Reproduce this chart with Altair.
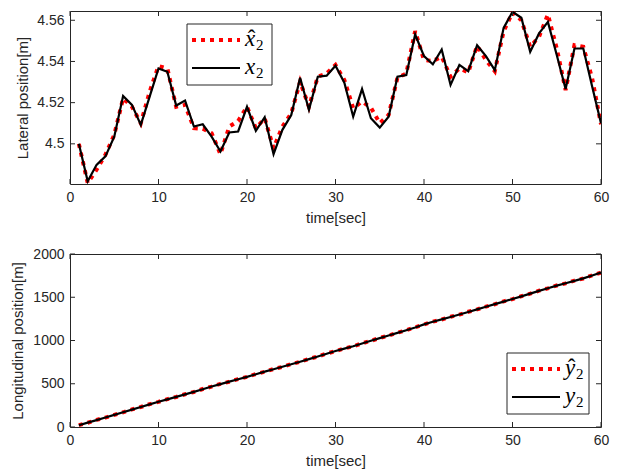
import altair as alt
import pandas as pd

# ---------------- data ----------------
time_s = list(range(1, 61))

x2_hat = [4.5000, 4.4810, 4.4874, 4.4947, 4.5044, 4.5221, 4.5180, 4.5100, 4.5253, 4.5378,
          4.5366, 4.5180, 4.5189, 4.5076, 4.5073, 4.5052, 4.4950, 4.5084, 4.5111, 4.5180,
          4.5076, 4.5124, 4.4979, 4.5084, 4.5148, 4.5302, 4.5180, 4.5326, 4.5342, 4.5383,
          4.5310, 4.5173, 4.5205, 4.5176, 4.5100, 4.5140, 4.5321, 4.5342, 4.5547, 4.5407,
          4.5402, 4.5423, 4.5326, 4.5366, 4.5347, 4.5476, 4.5407, 4.5353, 4.5547, 4.5638,
          4.5600, 4.5471, 4.5520, 4.5628, 4.5463, 4.5261, 4.5479, 4.5471, 4.5318, 4.5095]

x2 = [4.5000, 4.4818, 4.4898, 4.4939, 4.5035, 4.5232, 4.5189, 4.5092, 4.5229, 4.5366,
      4.5350, 4.5186, 4.5210, 4.5084, 4.5095, 4.5035, 4.4963, 4.5055, 4.5060, 4.5180,
      4.5063, 4.5129, 4.4950, 4.5068, 4.5140, 4.5321, 4.5165, 4.5326, 4.5331, 4.5379,
      4.5297, 4.5132, 4.5266, 4.5124, 4.5079, 4.5132, 4.5326, 4.5334, 4.5531, 4.5426,
      4.5386, 4.5458, 4.5286, 4.5383, 4.5353, 4.5479, 4.5426, 4.5358, 4.5563, 4.5641,
      4.5612, 4.5447, 4.5536, 4.5592, 4.5431, 4.5266, 4.5463, 4.5463, 4.5278, 4.5100]

y2_hat = [22, 49, 82, 109, 141, 170, 203, 231, 264, 291, 322, 347, 379, 405, 439, 467, 498, 523,
          554, 579, 612, 639, 670, 695, 727, 754, 787, 814, 849, 877, 908, 933, 967, 996, 1030,
          1057, 1090, 1118, 1153, 1185, 1218, 1243, 1274, 1299, 1332, 1359, 1392, 1419, 1452,
          1479, 1512, 1541, 1576, 1603, 1636, 1661, 1692, 1717, 1753, 1784]

y2 = [20, 50, 80, 110, 140, 171, 201, 232, 262, 292, 320, 348, 377, 406, 437, 468, 496, 524,
      552, 580, 610, 640, 668, 696, 725, 755, 785, 815, 847, 878, 906, 934, 965, 997, 1028,
      1058, 1088, 1119, 1151, 1186, 1216, 1244, 1272, 1300, 1330, 1360, 1390, 1420, 1450,
      1480, 1510, 1542, 1574, 1604, 1634, 1662, 1690, 1718, 1751, 1785]

x_ticks = [0, 10, 20, 30, 40, 50, 60]
lat_ticks = [4.5, 4.52, 4.54, 4.56]
lon_ticks = [0, 500, 1000, 1500, 2000]

# ---------------- style ----------------
W, H = 531, 173
TXT = "#262626"
SANS = "Liberation Sans"
SERIF = "Liberation Serif"
RED = "#ff0000"
DASH = [4, 5]
TICK = 5


def panel(est, true, ydom, yticks, yfmt, ytitle, letter, legend_xy, title_pad):
    df = pd.DataFrame({"t": time_s, "est": est, "true": true})
    xs = alt.Scale(domain=[0, 60], nice=False, zero=False)
    ys = alt.Scale(domain=ydom, nice=False, zero=False)
    xaxis = alt.Axis(title="time[sec]", values=x_ticks, format="d", labelFlush=False)
    yaxis = alt.Axis(title=ytitle, values=yticks, format=yfmt, titlePadding=title_pad,
                     labelFlush=False)

    base = alt.Chart(df)
    red = base.mark_line(color=RED, strokeWidth=4, strokeDash=DASH, clip=True).encode(
        x=alt.X("t:Q", scale=xs, axis=xaxis),
        y=alt.Y("est:Q", scale=ys, axis=yaxis),
    )
    black = base.mark_line(color="#000000", strokeWidth=2.2, clip=True).encode(
        x=alt.X("t:Q", scale=xs, axis=xaxis),
        y=alt.Y("true:Q", scale=ys, axis=yaxis),
    )

    xt = alt.Chart(pd.DataFrame({"tick": x_ticks}))
    yt = alt.Chart(pd.DataFrame({"tick": yticks}))
    rule_kw = dict(color=TXT, strokeWidth=1)
    xb = xt.mark_rule(**rule_kw).encode(
        x=alt.X("tick:Q", scale=xs, axis=xaxis), y=alt.value(H), y2=alt.value(H - TICK))
    xtp = xt.mark_rule(**rule_kw).encode(
        x=alt.X("tick:Q", scale=xs, axis=xaxis), y=alt.value(0), y2=alt.value(TICK))
    yl = yt.mark_rule(**rule_kw).encode(
        y=alt.Y("tick:Q", scale=ys, axis=yaxis), x=alt.value(0), x2=alt.value(TICK))
    yr = yt.mark_rule(**rule_kw).encode(
        y=alt.Y("tick:Q", scale=ys, axis=yaxis), x=alt.value(W), x2=alt.value(W - TICK))

    # legend (drawn by hand, MATLAB style)
    lx, ly, lw, lh = legend_xy
    one = alt.Chart(pd.DataFrame({"k": [0]}))
    box = one.mark_rect(fill="white", stroke=TXT, strokeWidth=1).encode(
        x=alt.value(lx), x2=alt.value(lx + lw), y=alt.value(ly), y2=alt.value(ly + lh))
    s_red = one.mark_rule(color=RED, strokeWidth=4, strokeDash=DASH).encode(
        x=alt.value(lx + 5), x2=alt.value(lx + 53), y=alt.value(ly + 16))
    s_blk = one.mark_rule(color="#000000", strokeWidth=2.2).encode(
        x=alt.value(lx + 5), x2=alt.value(lx + 53), y=alt.value(ly + 44))
    txt_kw = dict(font=SERIF, fontStyle="italic", fontSize=23, align="left",
                  baseline="alphabetic", color="#000000")
    sub_kw = dict(font=SERIF, fontSize=15, align="left", baseline="alphabetic", color="#000000")
    layers = [box, s_red, s_blk]
    for row, b in enumerate([21.5, 49.5]):
        layers.append(one.mark_text(**txt_kw).encode(
            x=alt.value(lx + 58), y=alt.value(ly + b), text=alt.value(letter)))
        layers.append(one.mark_text(**sub_kw).encode(
            x=alt.value(lx + 69), y=alt.value(ly + b + 4), text=alt.value("2")))
    layers.append(one.mark_text(font=SERIF, fontSize=23, align="center", baseline="alphabetic",
                                color="#000000").encode(
        x=alt.value(lx + 64.5), y=alt.value(ly + 21.5), text=alt.value("\u02c6")))

    return alt.layer(red, black, xb, xtp, yl, yr, *layers).properties(width=W, height=H)


top = panel(x2_hat, x2, [4.4805, 4.5645], lat_ticks, "~g", "Lateral position[m]", "x",
            (117, 13, 85, 61), 6)
bottom = panel(y2_hat, y2, [0, 2000], lon_ticks, "d", "Longitudinal position[m]", "y",
               (437, 99, 82, 61), 7)

chart = alt.vconcat(top, bottom, spacing=20).properties(
    padding={"left": 2, "top": 2, "right": 5, "bottom": 2}
).configure_view(
    stroke=TXT, strokeWidth=1
).configure_axis(
    labelFont=SANS, labelFontSize=14, labelColor=TXT, labelPadding=6,
    titleFont=SANS, titleFontSize=15, titleFontWeight="normal", titleColor=TXT,
    ticks=False, domain=False, grid=False,
).configure_axisX(titlePadding=6)

chart.save("out.html", embed_options={"renderer": "svg", "actions": False})
